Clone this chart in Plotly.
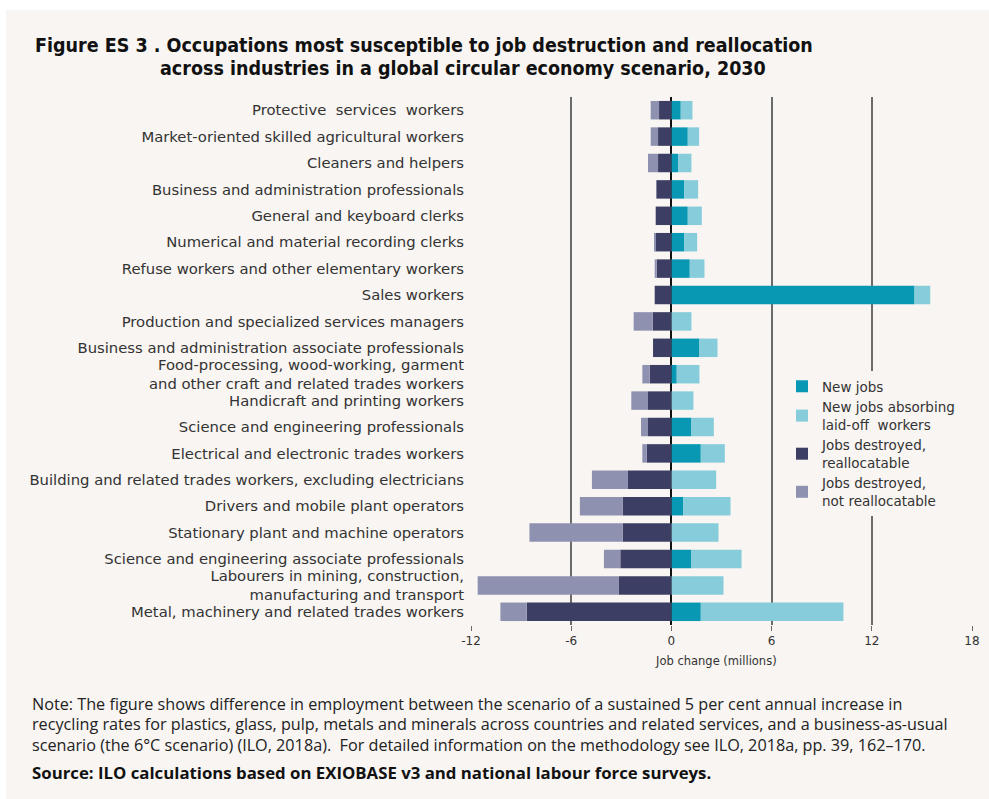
import plotly.graph_objects as go

categories = [
    "Protective  services  workers",
    "Market-oriented skilled agricultural workers",
    "Cleaners and helpers",
    "Business and administration professionals",
    "General and keyboard clerks",
    "Numerical and material recording clerks",
    "Refuse workers and other elementary workers",
    "Sales workers",
    "Production and specialized services managers",
    "Business and administration associate professionals",
    "Food-processing, wood-working, garment<br>and other craft and related trades workers",
    "Handicraft and printing workers",
    "Science and engineering professionals",
    "Electrical and electronic trades workers",
    "Building and related trades workers, excluding electricians",
    "Drivers and mobile plant operators",
    "Stationary plant and machine operators",
    "Science and engineering associate professionals",
    "Labourers in mining, construction,<br>manufacturing and transport",
    "Metal, machinery and related trades workers",
]

new_jobs = [0.56, 0.98, 0.40, 0.76, 0.98, 0.76, 1.10, 14.56, 0.0, 1.68,
            0.32, 0.0, 1.20, 1.76, 0.0, 0.70, 0.0, 1.20, 0.0, 1.76]
new_jobs_absorbing = [0.70, 0.68, 0.80, 0.84, 0.84, 0.78, 0.88, 0.94, 1.20, 1.08,
                      1.36, 1.32, 1.34, 1.44, 2.68, 2.84, 2.82, 3.00, 3.12, 8.54]
destroyed_realloc = [-0.74, -0.80, -0.80, -0.90, -0.94, -0.94, -0.88, -1.00, -1.12, -1.10,
                     -1.30, -1.40, -1.40, -1.48, -2.60, -2.92, -2.92, -3.06, -3.14, -8.66]
destroyed_not_realloc = [-0.50, -0.44, -0.60, 0.0, 0.0, -0.06, -0.12, 0.0, -1.14, 0.0,
                         -0.44, -1.00, -0.42, -0.26, -2.16, -2.56, -5.58, -0.98, -8.46, -1.58]

tick_vals = [-12, -6, 0, 6, 12, 18]
tick_text = ["-12", "-6", "0", "6", "12", "18"]

series = [
    ("New jobs", new_jobs, "#0898b3"),
    ("New jobs absorbing<br>laid-off  workers", new_jobs_absorbing, "#86ccda"),
    ("Jobs destroyed,<br>reallocatable", destroyed_realloc, "#3c3f63"),
    ("Jobs destroyed,<br>not reallocatable", destroyed_not_realloc, "#8f91b1"),
]

BG = "#f8f5f2"
TXT = "#333333"
OX, OY = 6, 10            # page offset of the figure (white page margin)
W, H = 989 - OX, 799 - OY
L = 471 - OX
PW = 501
R = W - L - PW
T = 97 - OY
PB = 625 - OY
B = H - PB
PH = PB - T


def px(x):
    return (x - OX - L) / PW


def py(y):
    return (PB - (y - OY)) / PH


fig = go.Figure()
for name, vals, col in series:
    fig.add_trace(go.Bar(
        y=categories, x=vals, name=name, orientation="h",
        marker=dict(color=col, line=dict(width=0)),
    ))

fig.update_layout(
    width=W, height=H,
    margin=dict(l=L, r=R, t=T, b=B, autoexpand=False),
    paper_bgcolor=BG, plot_bgcolor=BG,
    barmode="relative", bargap=0.3,
    font=dict(family="DejaVu Sans", size=13, color=TXT),
    xaxis=dict(
        range=[-12, 18], tickvals=tick_vals, ticktext=tick_text,
        showgrid=True, gridcolor="#6b6b6b", gridwidth=2,
        zeroline=True, zerolinecolor="#111111", zerolinewidth=2,
        ticks="outside", ticklen=5, tickcolor="#6b6b6b", tickwidth=1,
        tickfont=dict(size=12, color=TXT), showline=False,
    ),
    yaxis=dict(
        autorange="reversed", showgrid=False, showline=False, ticks="",
        tickfont=dict(size=14.8, color=TXT), ticklabelstandoff=6,
    ),
    legend=dict(
        x=px(782), y=py(371), xanchor="left", yanchor="top",
        bgcolor=BG, borderwidth=0, font=dict(size=13.5, color=TXT),
        traceorder="normal", tracegroupgap=5,
    ),
    showlegend=True,
)

NOTE_FONT = "Open Sans"
annotations = [
    dict(text="<b>Figure ES 3 . Occupations most susceptible to job destruction and reallocation</b>",
         x=px(33), y=py(45), xanchor="left", yanchor="middle",
         font=dict(family="DejaVu Sans Condensed", size=19.5, color="#111111")),
    dict(text="<b>across industries in a global circular economy scenario, 2030</b>",
         x=px(158), y=py(68), xanchor="left", yanchor="middle",
         font=dict(family="DejaVu Sans Condensed", size=19.5, color="#111111")),
    dict(text="Job change (millions)", x=px(716), y=py(661), xanchor="center", yanchor="middle",
         font=dict(family="DejaVu Sans", size=11.5, color=TXT)),
    dict(text="Note: The figure shows difference in employment between the scenario of a sustained 5 per cent annual increase in",
         x=px(30), y=py(704), xanchor="left", yanchor="middle",
         font=dict(family=NOTE_FONT, size=16.2, color="#222222")),
    dict(text="recycling rates for plastics, glass, pulp, metals and minerals across countries and related services, and a business-as-usual",
         x=px(30), y=py(724), xanchor="left", yanchor="middle",
         font=dict(family=NOTE_FONT, size=16.2, color="#222222")),
    dict(text="scenario (the 6\u00b0C scenario) (ILO, 2018a).  For detailed information on the methodology see ILO, 2018a, pp. 39, 162\u2013170.",
         x=px(30), y=py(745), xanchor="left", yanchor="middle",
         font=dict(family=NOTE_FONT, size=16.2, color="#222222")),
    dict(text="<b>Source: ILO calculations based on EXIOBASE v3 and national labour force surveys.</b>",
         x=px(30), y=py(772), xanchor="left", yanchor="middle",
         font=dict(family=NOTE_FONT, size=16.8, color="#111111")),
]
for a in annotations:
    a.update(xref="paper", yref="paper", showarrow=False)
fig.update_layout(annotations=annotations)

post = ("document.body.style.margin='%dpx 0 0 %dpx';"
        "document.documentElement.style.overflow='hidden';"
        "document.body.style.overflow='hidden';" % (OY, OX))
fig.write_html("out.html", post_script=post)
